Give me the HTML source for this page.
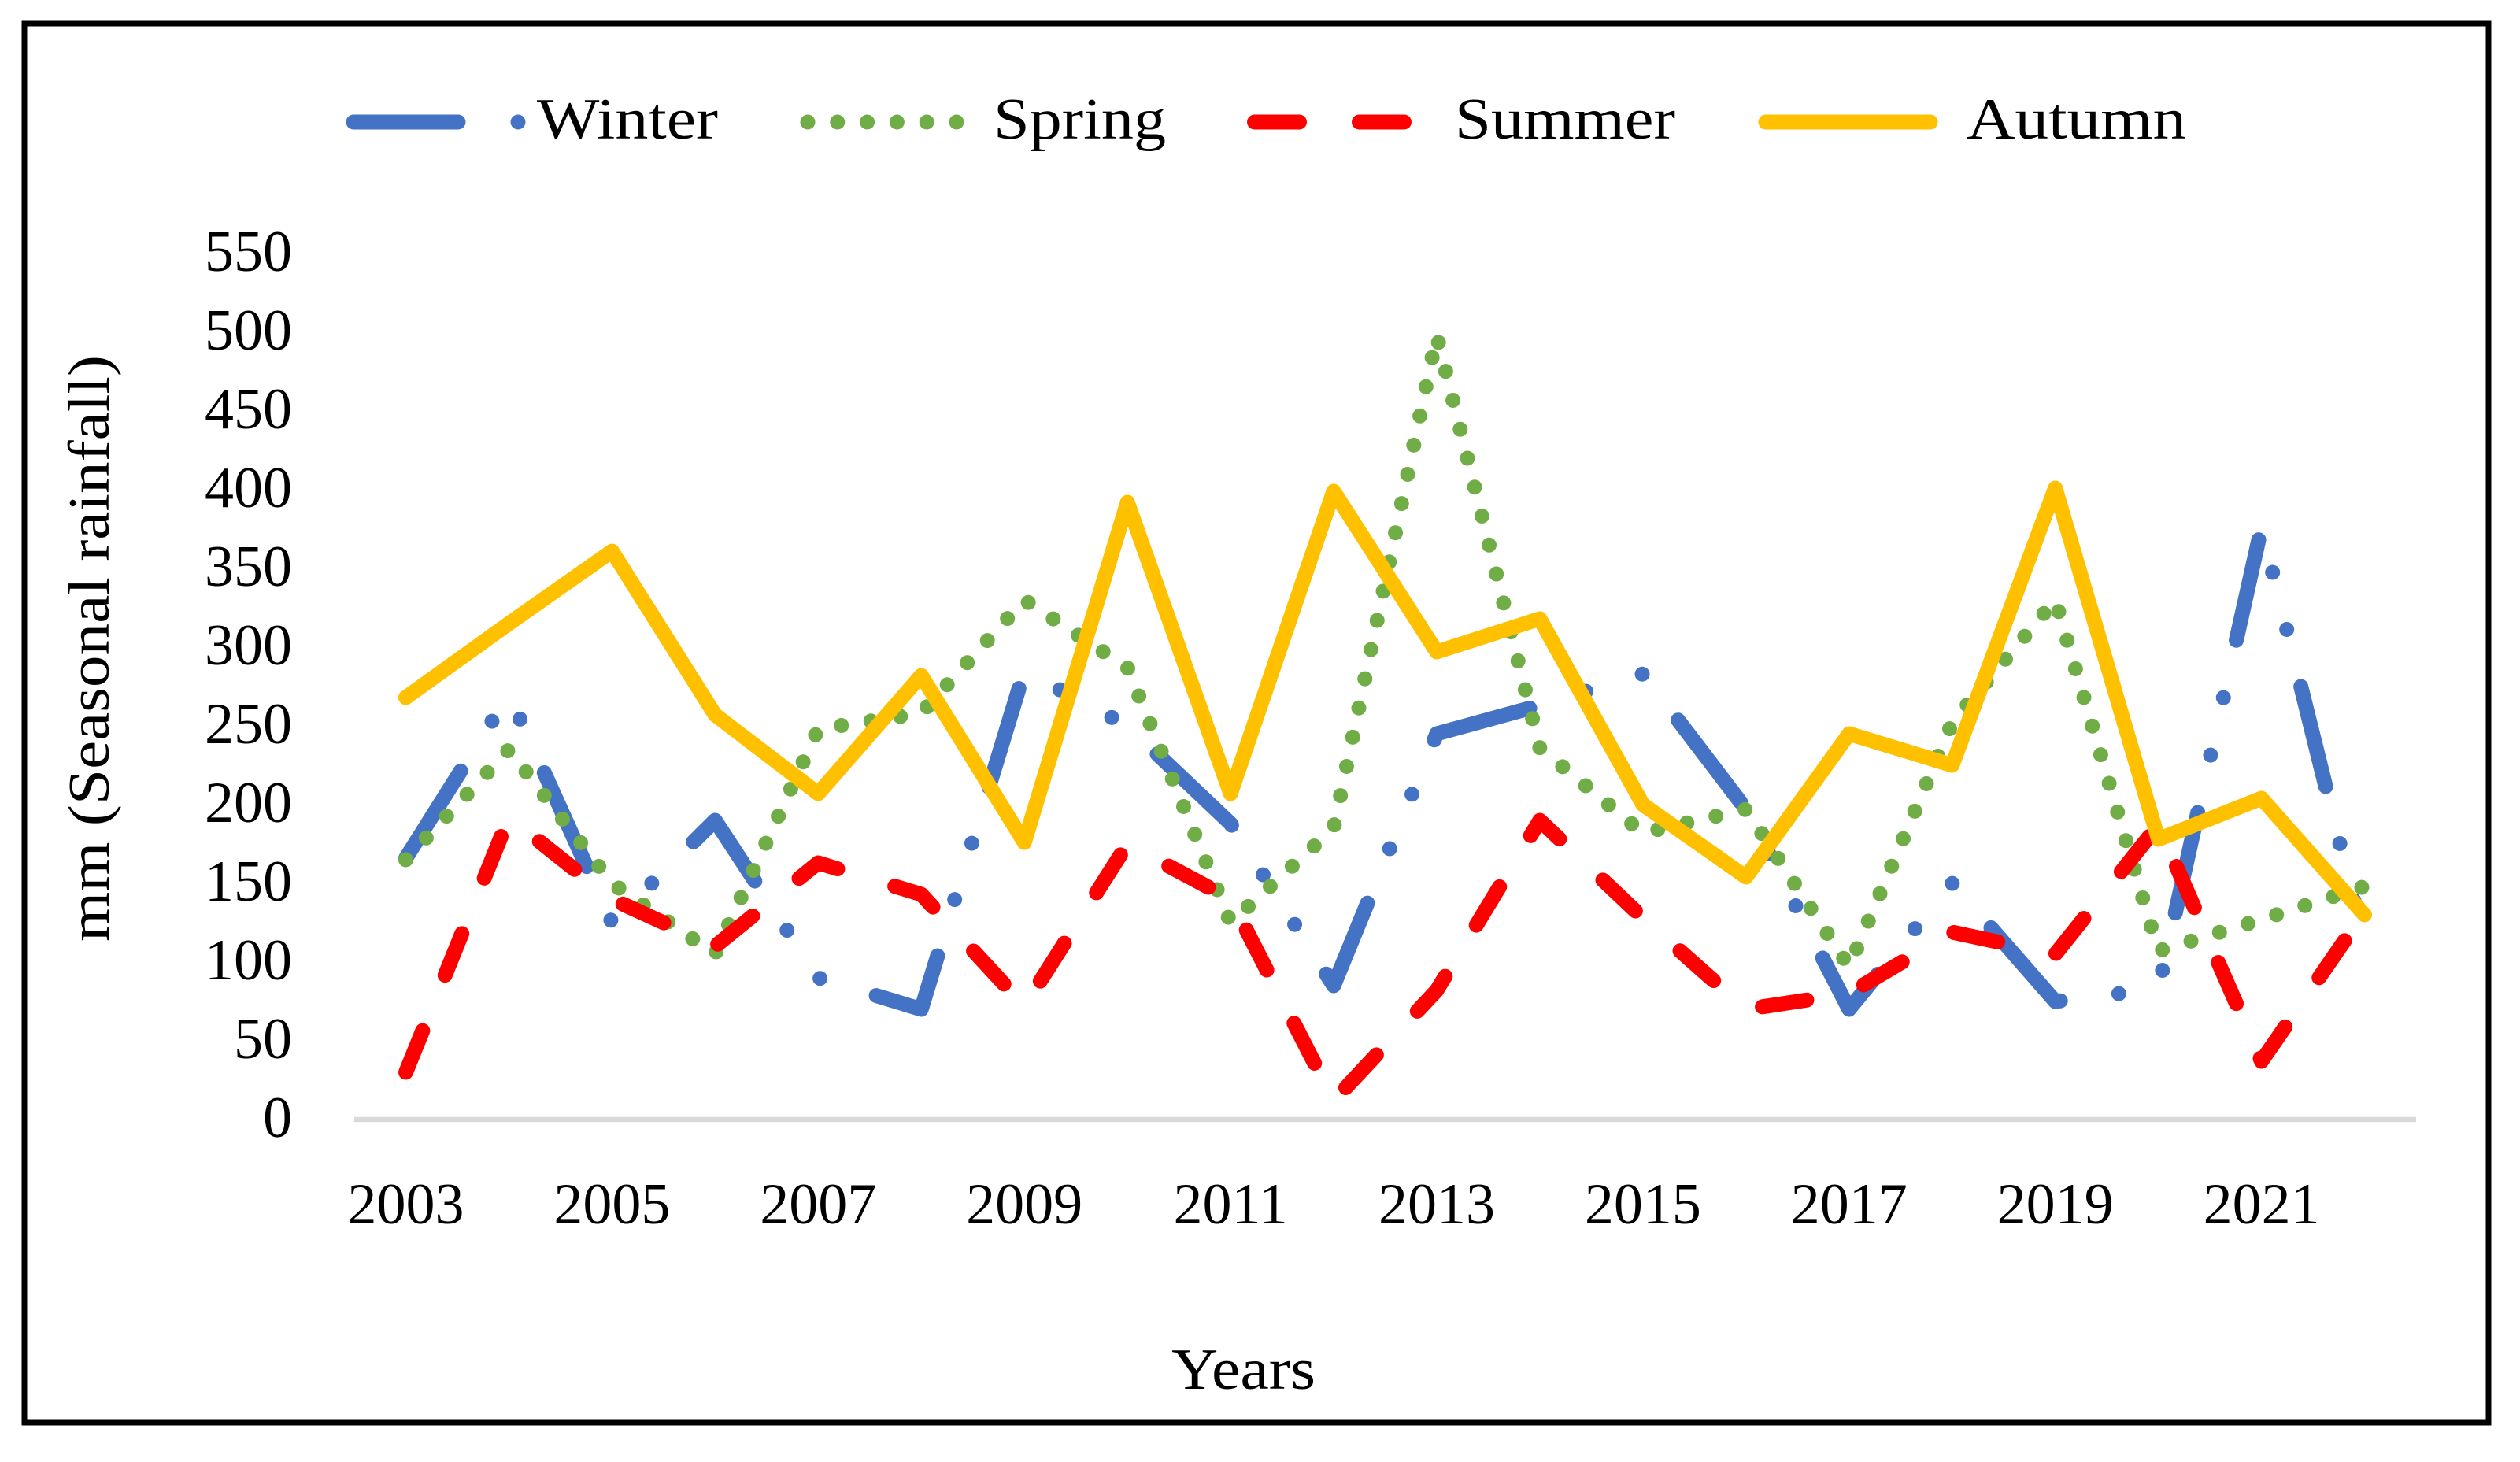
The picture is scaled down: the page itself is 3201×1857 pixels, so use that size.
<!DOCTYPE html>
<html lang="en">
<head>
<meta charset="utf-8">
<title>Seasonal rainfall</title>
<style>
html,body{margin:0;padding:0;background:#fff;width:3201px;height:1857px;overflow:hidden}
svg{display:block}
text{font-family:"Liberation Serif",serif;font-size:74px;fill:#000}
</style>
</head>
<body>
<svg id="chart" xmlns="http://www.w3.org/2000/svg" width="3201" height="1857" viewBox="0 0 3201 1857">
  <rect x="0" y="0" width="3201" height="1857" fill="#ffffff"/>
  <rect x="31" y="30" width="3130" height="1777" fill="none" stroke="#000" stroke-width="7"/>
  <g>
    <g>
      <line x1="449" y1="155" x2="662" y2="155" stroke="#4472c4" stroke-width="19" stroke-linecap="round" stroke-dasharray="133 76 0 76 0 76"/>
      <text x="682" y="176" textLength="230" lengthAdjust="spacingAndGlyphs">Winter</text>
    </g>
    <g>
      <line x1="1026" y1="155" x2="1216" y2="155" stroke="#70ad47" stroke-width="19" stroke-linecap="round" stroke-dasharray="0 37.8"/>
      <text x="1262" y="176" textLength="219" lengthAdjust="spacingAndGlyphs">Spring</text>
    </g>
    <g>
      <line x1="1593.5" y1="155" x2="1784" y2="155" stroke="#ff0000" stroke-width="19" stroke-linecap="round" stroke-dasharray="57 76"/>
      <text x="1848" y="176" textLength="280" lengthAdjust="spacingAndGlyphs">Summer</text>
    </g>
    <g>
      <line x1="2243" y1="155" x2="2452" y2="155" stroke="#ffc000" stroke-width="19" stroke-linecap="round"/>
      <text x="2498" y="176" textLength="279" lengthAdjust="spacingAndGlyphs">Autumn</text>
    </g>
  </g>
  <line x1="450" y1="1422" x2="3069" y2="1422" stroke="#d9d9d9" stroke-width="6.5"/>
  <g id="y-ticks"></g>
  <g id="x-ticks"></g>
  <g id="series"></g>
  <text transform="translate(138,1196) rotate(-90)" x="0" y="0" textLength="745" lengthAdjust="spacingAndGlyphs">mm (Seasonal rainfall)</text>
  <text x="1488" y="1764" textLength="183" lengthAdjust="spacingAndGlyphs">Years</text>
</svg>
<script>
var categories = [2003,2004,2005,2006,2007,2008,2009,2010,2011,2012,2013,2014,2015,2016,2017,2018,2019,2020,2021,2022];
var winterValues = [166,270,125,190,90,70,285,250,188,85,245,263,283,197,70,150,75,83,376,112];
var springValues = [165,235,150,105,248,258,330,287,125,185,498,236,182,197,97,252,330,107,127,148];
var summerValues = [30,192,140,110,163,143,72,175,140,12,82,190,128,70,80,119,105,187,37,132];
var autumnValues = [268,315,361,257,207,282,176,392,207,399,297,318,200,154,245,225,401,178,204,130];
var yTickLabels = [0,50,100,150,200,250,300,350,400,450,500,550];
var xTickLabels = [2003,2005,2007,2009,2011,2013,2015,2017,2019,2021];

var NS = 'http://www.w3.org/2000/svg';
var plotLeft = 450, plotRight = 3069, plotBottom = 1422, pxPerUnit = 2;

function xScale(index) {
  var step = (plotRight - plotLeft) / categories.length;
  return plotLeft + step * (index + 0.5);
}
function yScale(value) {
  return plotBottom - value * pxPerUnit;
}

var yGroup = document.getElementById('y-ticks');
yTickLabels.forEach(function (tick) {
  var t = document.createElementNS(NS, 'text');
  
  
  t.setAttribute('x', 371);
  t.setAttribute('y', yScale(tick) + 22);
  t.setAttribute('text-anchor', 'end');
  t.textContent = tick;
  yGroup.appendChild(t);
});

var xGroup = document.getElementById('x-ticks');
xTickLabels.forEach(function (tick) {
  var t = document.createElementNS(NS, 'text');
  
  
  t.setAttribute('x', xScale(categories.indexOf(tick)));
  t.setAttribute('y', 1554);
  t.setAttribute('text-anchor', 'middle');
  t.textContent = tick;
  xGroup.appendChild(t);
});

function pathFor(values) {
  return values.map(function (v, i) {
    return (i === 0 ? 'M' : 'L') + xScale(i).toFixed(2) + ' ' + yScale(v).toFixed(2);
  }).join(' ');
}

var seriesGroup = document.getElementById('series');

var winterLine = document.createElementNS(NS, 'path');


winterLine.setAttribute('d', pathFor(winterValues));
winterLine.setAttribute('fill', 'none');
winterLine.setAttribute('stroke', '#4472c4');
winterLine.setAttribute('stroke-width', '19');
winterLine.setAttribute('stroke-linecap', 'round');
winterLine.setAttribute('stroke-linejoin', 'round');
winterLine.setAttribute('stroke-dasharray', '130.8 74.7 0 74.7 0 74.7');
seriesGroup.appendChild(winterLine);

var springLine = document.createElementNS(NS, 'path');


springLine.setAttribute('d', pathFor(springValues));
springLine.setAttribute('fill', 'none');
springLine.setAttribute('stroke', '#70ad47');
springLine.setAttribute('stroke-width', '19');
springLine.setAttribute('stroke-linecap', 'round');
springLine.setAttribute('stroke-linejoin', 'round');
springLine.setAttribute('stroke-dasharray', '0 37.9');
seriesGroup.appendChild(springLine);

var summerLine = document.createElementNS(NS, 'path');


summerLine.setAttribute('d', pathFor(summerValues));
summerLine.setAttribute('fill', 'none');
summerLine.setAttribute('stroke', '#ff0000');
summerLine.setAttribute('stroke-width', '19');
summerLine.setAttribute('stroke-linecap', 'round');
summerLine.setAttribute('stroke-linejoin', 'round');
summerLine.setAttribute('stroke-dasharray', '57 76');
seriesGroup.appendChild(summerLine);

var autumnLine = document.createElementNS(NS, 'path');


autumnLine.setAttribute('d', pathFor(autumnValues));
autumnLine.setAttribute('fill', 'none');
autumnLine.setAttribute('stroke', '#ffc000');
autumnLine.setAttribute('stroke-width', '19');
autumnLine.setAttribute('stroke-linecap', 'round');
autumnLine.setAttribute('stroke-linejoin', 'round');
seriesGroup.appendChild(autumnLine);
</script>
</body>
</html>
